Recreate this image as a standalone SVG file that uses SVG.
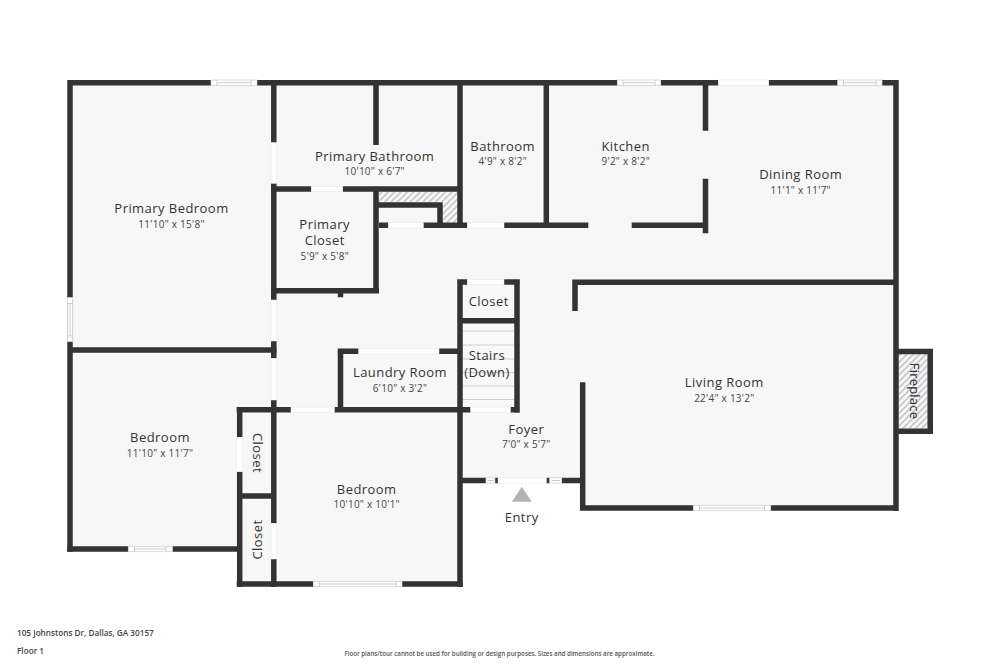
<svg xmlns="http://www.w3.org/2000/svg" width="1000" height="667" viewBox="0 0 1000 667">
<style>
.w{fill:none;stroke:#333;stroke-width:5.5;stroke-linecap:butt;stroke-linejoin:miter}
.f{fill:#f7f7f7}
.o{fill:#fff;stroke:#e4e4e4;stroke-width:.5}
.g{fill:#fff;stroke:#ccc;stroke-width:.7}
.s{stroke:#ccc;stroke-width:1;fill:none}
text{font-family:"Open Sans","Noto Sans","Liberation Sans",sans-serif;fill:#333;text-anchor:middle}
.n{font-size:13px;font-weight:500;letter-spacing:.45px}
.d{font-size:10px;font-weight:400;letter-spacing:.25px;fill:#444}
.m{font-size:8.2px;font-weight:600;text-anchor:start;fill:#444}
</style>
<defs>
<pattern id="h" width="4.5" height="4.5" patternUnits="userSpaceOnUse" patternTransform="rotate(45)">
<rect width="4.5" height="4.5" fill="#f7f7f7"/><rect width="1.6" height="4.5" fill="#c4c4c4"/>
</pattern>
</defs>
<rect width="1000" height="667" fill="#fff"/>
<path class="f" d="M70 82.7H896V508H582.7V480.5H460V584H239.7V549H70Z"/>
<path fill="url(#h)" d="M379 192H457.3V222.5H442.7V202.3H379Z"/>
<rect x="898.7" y="354" width="29" height="74.5" fill="url(#h)"/>
<g id="stairs">
<rect x="462.7" y="323.5" width="51.5" height="83" fill="#f9f9f9"/>
<path class="s" d="M463 331H514M463 345H514M463 359H514M463 372.7H514M463 386H514M463 399.5H514"/>
</g>
<g id="walls">
<path class="w" d="M70 300V551.7M70 297.7V80M67.3 82.7H211M257 82.7H617.3M660.7 82.7H718.3M768.7 82.7H837.7M882 82.7H898.7M896 80V511M898.7 508H770.7M693.3 508H580M582.7 510.7V382.3"/>
<path class="w" d="M67.3 549H128.3M172.3 549H237M70 350H276.7M273.8 80V142.7M273.8 183.3V300M273.8 341V358.3M273.8 400V523.3M273.8 559V587"/>
<path class="w" d="M271 189H311.3M342.7 189H460M376 82V145M376 186.3V293.4M271 290.7H379M340.5 290V297.3M460 82V228M379 225.3H388.3M423.3 225.3H467.3M504 225.3H588.3M631.7 225.3H706M376 205H442.7M440 205V225M546.3 82V225M705.5 82V130.7M705.5 178.7V233.3"/>
<path class="w" d="M572.3 282.3H896M575 279.6V311M460 279.3V587M457.3 282H467.3M504 282H519.8M517 279.3V412.7M460 320.7H517M236.7 409.8H291M334.3 409.8H470.7M510.3 409.8H519.8M340.5 348.7V410M337.7 351.3H358.7M439 351.3H460"/>
<path class="w" d="M239.7 407V437.3M239.7 471.7V587M240 496H274M236.7 584H313.3M402 584H462.7M460 480.5H486M495 480.5H498M546.3 480.5H549.7M561.7 480.5H582.7M896 351.4H933M930.2 348.7V434M896 431.2H933"/>
</g>
<g id="openings">
<rect class="o" x="718.3" y="80" width="50.4" height="5.4"/>
<rect class="o" x="271" y="142.7" width="5.6" height="40.6"/>
<rect class="o" x="271" y="300" width="5.6" height="41"/>
<rect class="o" x="271" y="358.3" width="5.6" height="41.7"/>
<rect class="o" x="271" y="523.3" width="5.6" height="35.7"/>
<rect class="o" x="236.8" y="437.3" width="5.6" height="34.4"/>
<rect class="o" x="311.3" y="186.3" width="31.4" height="5.5"/>
<rect class="o" x="388.3" y="222.5" width="35" height="5.5"/>
<rect class="o" x="467.3" y="222.5" width="36.7" height="5.5"/>
<rect class="o" x="467.3" y="279.3" width="36.7" height="5.5"/>
<rect class="o" x="291" y="407" width="43.3" height="5.5"/>
<rect class="o" x="470.7" y="407" width="39.6" height="5.5"/>
<rect class="o" x="358.7" y="348.7" width="80.3" height="5.3"/>
<rect class="o" x="498" y="477.8" width="48.3" height="5.4"/>
</g>
<g id="windows">
<rect class="g" x="211" y="80" width="46" height="5.4"/><path class="s" d="M217 80V85.4M251 80V85.4M217 82.7H251"/>
<rect class="g" x="617.3" y="80" width="43.4" height="5.4"/><path class="s" d="M623 80V85.4M655 80V85.4M623 82.7H655"/>
<rect class="g" x="837.7" y="80" width="44.3" height="5.4"/><path class="s" d="M843.5 80V85.4M876 80V85.4M843.5 82.7H876"/>
<rect class="g" x="67.3" y="297.7" width="5.5" height="44"/><path class="s" d="M67.3 303.5H72.8M67.3 336H72.8M70 303.5V336"/>
<rect class="g" x="128.3" y="546.3" width="44" height="5.4"/><path class="s" d="M134.5 546.3V551.7M166 546.3V551.7M134.5 549H166"/>
<rect class="g" x="313.3" y="581.3" width="88.7" height="5.4"/><path class="s" d="M319.5 581.3V586.7M396 581.3V586.7M319.5 584H396"/>
<rect class="g" x="693.3" y="505.3" width="77.4" height="5.4"/><path class="s" d="M699.5 505.3V510.7M764.5 505.3V510.7M699.5 508H764.5"/>
<rect class="g" x="486" y="477.8" width="9" height="5.4"/><path class="s" d="M487.5 480.5H493.5"/>
<rect class="g" x="549.7" y="477.8" width="12" height="5.4"/><path class="s" d="M551.5 480.5H560"/>
</g>
<polygon id="entry-arrow" points="521.7,486.7 531.7,501.7 512,501.7" fill="#b3b3b3"/>
<g id="primary-bedroom"><text class="n" x="171.5" y="213">Primary Bedroom</text><text class="d" x="171.5" y="227.5">11'10" x 15'8"</text></g>
<g id="primary-bathroom"><text class="n" x="374.7" y="160.5">Primary Bathroom</text><text class="d" x="374.7" y="175">10'10" x 6'7"</text></g>
<g id="primary-closet"><text class="n" x="324.7" y="228.5">Primary</text><text class="n" x="324.7" y="245">Closet</text><text class="d" x="324.7" y="259.5">5'9" x 5'8"</text></g>
<g id="bathroom"><text class="n" x="502.7" y="150.5">Bathroom</text><text class="d" x="502.7" y="165">4'9" x 8'2"</text></g>
<g id="kitchen"><text class="n" x="625.7" y="150.5">Kitchen</text><text class="d" x="625.7" y="165">9'2" x 8'2"</text></g>
<g id="dining-room"><text class="n" x="800.7" y="179">Dining Room</text><text class="d" x="800.7" y="193.5">11'1" x 11'7"</text></g>
<g id="closet-hall"><text class="n" x="488.7" y="306">Closet</text></g>
<g id="stairs-label"><text class="n" x="487" y="360">Stairs</text><text class="n" x="487" y="376.7">(Down)</text></g>
<g id="laundry-room"><text class="n" x="400" y="377.3">Laundry Room</text><text class="d" x="400" y="391.7">6'10" x 3'2"</text></g>
<g id="foyer"><text class="n" x="526.3" y="433.5">Foyer</text><text class="d" x="526.3" y="448">7'0" x 5'7"</text></g>
<g id="entry"><text class="n" x="521.7" y="522">Entry</text></g>
<g id="living-room"><text class="n" x="724.3" y="387">Living Room</text><text class="d" x="724.3" y="401.5">22'4" x 13'2"</text></g>
<g id="fireplace"><text class="n" style="font-weight:400;letter-spacing:.2px" transform="translate(909.5 391) rotate(90)">Fireplace</text></g>
<g id="bedroom-left"><text class="n" x="160" y="442">Bedroom</text><text class="d" x="160" y="456.5">11'10" x 11'7"</text></g>
<g id="bedroom-front"><text class="n" x="366.7" y="493.5">Bedroom</text><text class="d" x="366.7" y="508">10'10" x 10'1"</text></g>
<g id="closet-upper"><text class="n" transform="translate(252.5 453) rotate(90)">Closet</text></g>
<g id="closet-lower"><text class="n" transform="translate(262 539.5) rotate(-90)">Closet</text></g>
<g id="footer">
<text class="m" x="17" y="636">105 Johnstons Dr, Dallas, GA 30157</text>
<text class="m" x="17" y="654">Floor 1</text>
<text x="499.5" y="655.5" style="font-size:6.2px;font-weight:600;fill:#555">Floor plans/tour cannot be used for building or design purposes. Sizes and dimensions are approximate.</text>
</g>
</svg>
